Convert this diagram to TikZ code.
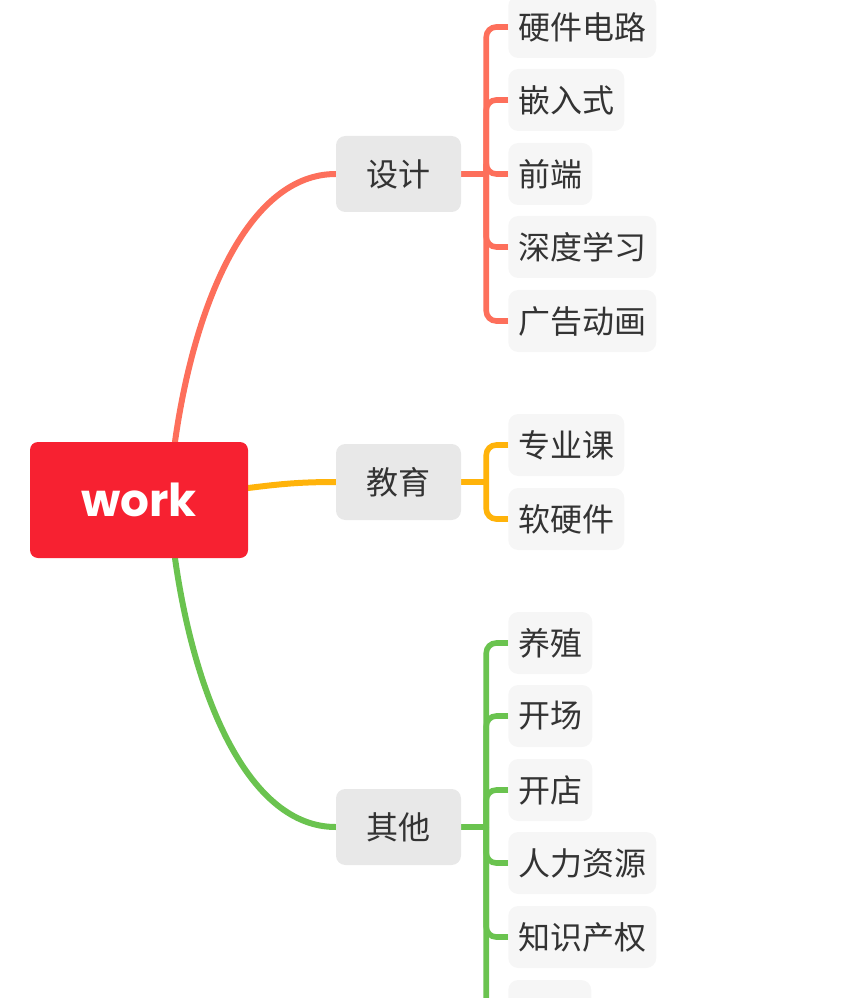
\documentclass[tikz,border=0pt]{standalone}
\usepackage{fontspec}
\newfontfamily\cjk{Noto Sans CJK SC}
\newfontfamily\pop{Poppins}
\usetikzlibrary{calc}
\pgfdeclarelayer{background}
\pgfsetlayers{background,main}
\definecolor{rootred}{HTML}{F72131}
\definecolor{cred}{HTML}{FD6F5B}
\definecolor{cyel}{HTML}{FFB30A}
\definecolor{cgrn}{HTML}{6AC34F}
\definecolor{topicgray}{HTML}{E8E8E8}
\definecolor{leafgray}{HTML}{F6F6F6}
\definecolor{txt}{HTML}{333333}
\begin{document}
\begin{tikzpicture}[x=0.75pt,y=-0.75pt,
  root/.style={fill=rootred, rounded corners=6pt, minimum width=163.5pt, minimum height=87pt, inner sep=0pt, text=white, font=\pop\bfseries\fontsize{34}{40}\selectfont},
  topic/.style={fill=topicgray, rounded corners=7pt, minimum width=93.75pt, minimum height=57pt, inner sep=0pt, text=txt, font=\cjk\fontsize{24}{28}\selectfont},
  leaf/.style={fill=leafgray, rounded corners=7.5pt, anchor=west, inner xsep=7.5pt, inner ysep=0pt, minimum height=46.5pt, text=txt, font=\cjk\fontsize{24}{28}\selectfont},
  mainline/.style={line width=4.5pt, line cap=round},
  brk/.style={line width=4.2pt, rounded corners=7.5pt}
]
\useasboundingbox (0,0) rectangle (855,998);
\clip (0,0) rectangle (855,998);

\node[root] (work) at (139,500) {work};
\node[topic] (sheji) at (398.5,174) {设计};
\node[topic] (jiaoyu) at (398.5,482) {教育};
\node[topic] (qita) at (398.5,827) {其他};

\node[leaf] (l1) at (508,27) {硬件电路};
\node[leaf] (l2) at (508,100) {嵌入式};
\node[leaf] (l3) at (508,174) {前端};
\node[leaf] (l4) at (508,247) {深度学习};
\node[leaf] (l5) at (508,321) {广告动画};

\node[leaf] (e1) at (508,445) {专业课};
\node[leaf] (e2) at (508,519) {软硬件};

\node[leaf] (o1) at (508,643) {养殖};
\node[leaf] (o2) at (508,716) {开场};
\node[leaf] (o3) at (508,790) {开店};
\node[leaf] (o4) at (508,863) {人力资源};
\node[leaf] (o5) at (508,937) {知识产权};
\node[leaf, minimum width=62.25pt] (o6) at (508,1011) {};

\begin{pgfonlayer}{background}
\draw[mainline, cred] ($(work.north)+(36,0)$) .. controls +(20,-142) and +(-86,0) .. (sheji.west);
\draw[mainline, cgrn] ($(work.south)+(36,0)$) .. controls +(20,142) and +(-86,0) .. (qita.west);
\draw[mainline, cyel] ($(work.east)+(0,-12)$) .. controls +(32,-4) and +(-36,0) .. (jiaoyu.west);

\coordinate (j1) at ($(sheji.east)+(25,0)$);
\coordinate (j2) at ($(jiaoyu.east)+(25,0)$);
\coordinate (j3) at ($(qita.east)+(25,0)$);
\draw[brk, cred] (sheji.east) -- (j1);
\draw[brk, cyel] (jiaoyu.east) -- (j2);
\draw[brk, cgrn] (qita.east) -- (j3);
\foreach \n in {l1,l2,l3,l4,l5} \draw[brk, cred] (j1) |- (\n.west);
\foreach \n in {e1,e2} \draw[brk, cyel] (j2) |- (\n.west);
\foreach \n in {o1,o2,o3,o4,o5,o6} \draw[brk, cgrn] (j3) |- (\n.west);
\end{pgfonlayer}
\end{tikzpicture}
\end{document}
